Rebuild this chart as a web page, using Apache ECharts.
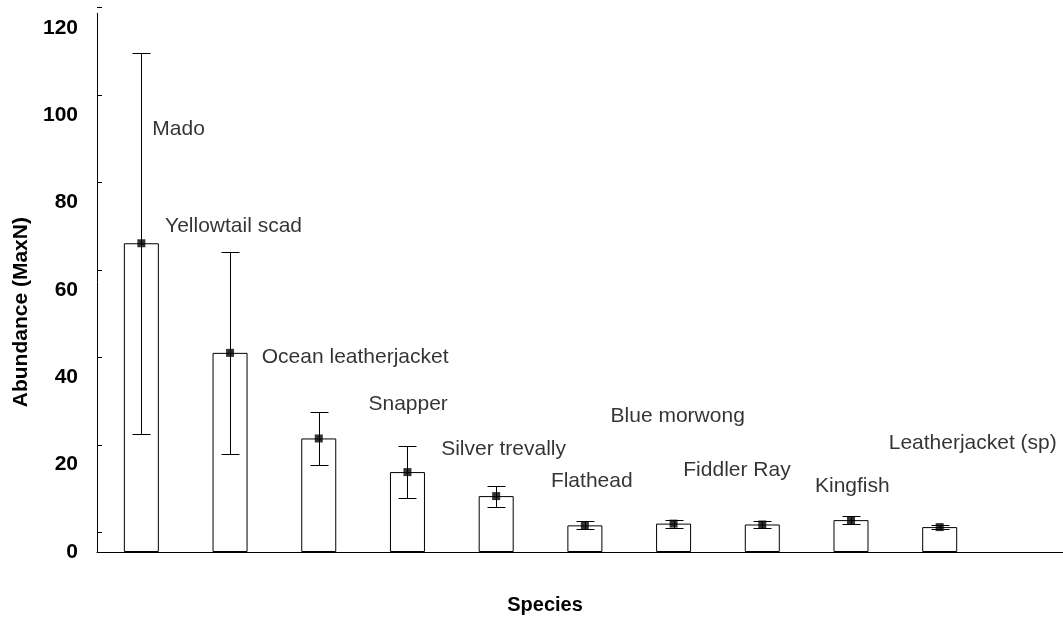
<!DOCTYPE html>
<html>
<head>
<meta charset="utf-8">
<script src="https://cdn.jsdelivr.net/npm/echarts@6/dist/echarts.min.js"></script>
<style>
html,body{margin:0;padding:0;background:#fff;}
#chart{width:1063px;height:624px;}
</style>
</head>
<body>
<div id="chart"></div>
<script>
// ---- data ----
const categories = ['Mado', 'Yellowtail scad', 'Ocean leatherjacket', 'Snapper', 'Silver trevally',
  'Flathead', 'Blue morwong', 'Fiddler Ray', 'Kingfish', 'Leatherjacket (sp)'];
const meanMaxN = [70.7, 45.6, 26.0, 18.3, 12.8, 6.1, 6.5, 6.3, 7.3, 5.7];
const errorMaxN = [43.6, 23.2, 6.0, 6.0, 2.4, 0.9, 0.9, 0.7, 0.9, 0.4];
const yTicks = [0, 20, 40, 60, 80, 100, 120];

// ---- layout (label offsets in px from each marker centre) ----
const labelOffsets = [[11, -114], [-65, -127], [-57, -81], [-39, -68], [-55, -47],
  [-34, -44], [-63, -107], [-79, -54], [-36, -34], [-51, -84]];

const FONT = '"Liberation Sans", Arial, Helvetica, sans-serif';
const MS = 8; // marker size
const X_MIN = -0.5, X_MAX = 10.39; // category slots; plot area is cut at the right edge

const chart = echarts.init(document.getElementById('chart'), null, {renderer: 'canvas'});

const barData = meanMaxN.map((v, i) => [i, v]);
const errData = categories.map((c, i) => [i, meanMaxN[i] - errorMaxN[i], meanMaxN[i] + errorMaxN[i]]);
const markerData = meanMaxN.map((v, i) => ({
  value: [i, v],
  label: {
    show: true,
    formatter: categories[i],
    position: [labelOffsets[i][0] + MS / 2, labelOffsets[i][1] + MS / 2],
    align: 'left',
    verticalAlign: 'middle',
    color: '#000',
    textBorderWidth: 0,
    fontSize: 21,
    fontFamily: FONT
  }
}));

const option = {
  animation: false,
  backgroundColor: '#fff',
  grid: [
    {left: 97, right: 0, top: 13.3, bottom: 72, containLabel: false},
    {left: 97, right: 0, top: 7.7, bottom: 91.3, containLabel: false}
  ],
  xAxis: [
    {
      type: 'value', gridIndex: 0, min: X_MIN, max: X_MAX,
      axisLine: {show: true, onZero: false, lineStyle: {color: '#000', width: 1}},
      axisTick: {show: false}, axisLabel: {show: false}, splitLine: {show: false},
      name: 'Species', nameLocation: 'middle', nameGap: 43,
      nameTextStyle: {color: '#000', fontSize: 20, fontWeight: 'bold', fontFamily: FONT, padding: [0, 70, 0, 0]}
    },
    {type: 'value', gridIndex: 1, min: X_MIN, max: X_MAX, show: false, axisLine: {onZero: false}}
  ],
  yAxis: [
    {
      type: 'value', gridIndex: 0, min: 0, max: 123.36, interval: 20,
      axisLine: {show: true, onZero: false, lineStyle: {color: '#000', width: 1}},
      axisTick: {show: false}, splitLine: {show: false},
      axisLabel: {
        show: true, color: '#000', fontSize: 21, fontWeight: 'bold', fontFamily: FONT,
        margin: 19, padding: [0, 0, 8, 0],
        formatter: v => (yTicks.indexOf(v) >= 0 ? String(v) : '')
      },
      name: 'Abundance (MaxN)', nameLocation: 'middle', nameGap: 62,
      nameTextStyle: {color: '#000', fontSize: 21, fontWeight: 'bold', fontFamily: FONT, padding: [0, 59, 0, 0]}
    },
    {
      type: 'value', gridIndex: 1, min: 0, max: 120, interval: 20,
      axisLine: {show: false, onZero: false},
      axisTick: {show: true, inside: true, length: 5, lineStyle: {color: '#000', width: 1}},
      axisLabel: {show: false}, splitLine: {show: false}
    }
  ],
  series: [
    {
      type: 'bar', xAxisIndex: 0, yAxisIndex: 0, barWidth: 35,
      data: barData,
      itemStyle: {color: '#fff', borderColor: '#000', borderWidth: 1},
      silent: true
    },
    {
      type: 'custom', xAxisIndex: 0, yAxisIndex: 0, data: errData, silent: true, z: 3,
      renderItem: function (params, api) {
        const x = api.value(0), lo = api.value(1), hi = api.value(2);
        const pLo = api.coord([x, lo]), pHi = api.coord([x, hi]);
        const cx = Math.round(pLo[0]) + 0.5;
        const yl = Math.round(pLo[1]) + 0.5, yh = Math.round(pHi[1]) + 0.5;
        const hw = 9;
        const st = {stroke: '#000', lineWidth: 1};
        return {type: 'group', children: [
          {type: 'line', shape: {x1: cx, y1: yl, x2: cx, y2: yh}, style: st},
          {type: 'line', shape: {x1: cx - hw, y1: yh, x2: cx + hw, y2: yh}, style: st},
          {type: 'line', shape: {x1: cx - hw, y1: yl, x2: cx + hw, y2: yl}, style: st}
        ]};
      }
    },
    {
      type: 'scatter', xAxisIndex: 0, yAxisIndex: 0, symbol: 'rect', symbolSize: MS, z: 4,
      itemStyle: {color: '#000'},
      data: markerData, silent: true
    }
  ]
};
chart.setOption(option);
</script>
</body>
</html>
